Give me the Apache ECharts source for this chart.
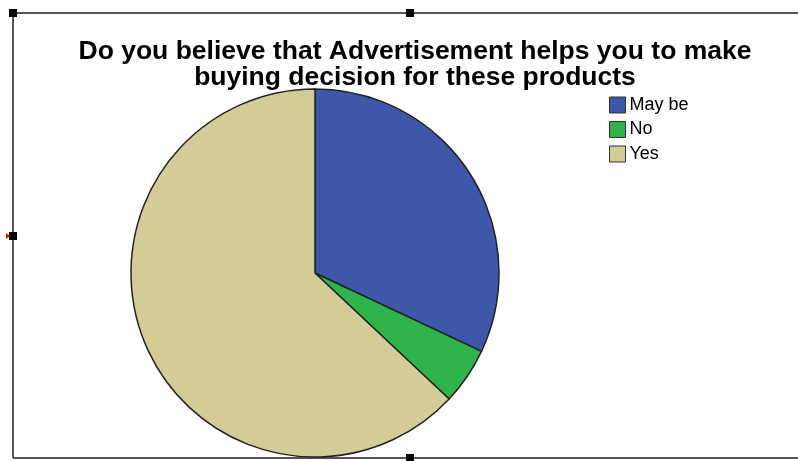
<!DOCTYPE html>
<html>
<head>
<meta charset="utf-8">
<script src="https://cdn.jsdelivr.net/npm/echarts@6/dist/echarts.min.js"></script>
<style>
  html, body { margin: 0; padding: 0; background: #fff; }
  #chart { width: 798px; height: 461px; }
</style>
</head>
<body>
<div id="chart"></div>
<script>
// Survey answers (percent of respondents)
const categories = ['May be', 'No', 'Yes'];
const shares = [32, 5, 63];
const sliceColors = ['#3d57a9', '#2fb34b', '#d3cc97'];

const chart = echarts.init(document.getElementById('chart'));

// Selection frame with handles around the chart object
const frameColor = '#555';
const handle = (x, y) => ({
  type: 'rect', shape: { x: x - 4, y: y - 4, width: 8, height: 8 },
  style: { fill: '#000' }, z: 10
});

chart.setOption({
  animation: false,
  title: {
    text: 'Do you believe that Advertisement helps you to make\nbuying decision for these products',
    left: 410, top: 34, textAlign: 'center',
    textStyle: {
      fontFamily: 'Liberation Sans, Arial, sans-serif',
      fontWeight: 'bold', fontSize: 26.5, lineHeight: 25.5, color: '#000'
    }
  },
  legend: {
    orient: 'vertical', left: 604, top: 91,
    itemWidth: 16, itemHeight: 16, itemGap: 6.5,
    icon: 'rect',
    itemStyle: { borderColor: '#333', borderWidth: 1 },
    textStyle: { fontFamily: 'Liberation Sans, Arial, sans-serif', fontSize: 18, color: '#000', padding: [0, 0, 0, -1] },
    data: categories
  },
  graphic: [
    { type: 'line', shape: { x1: 13, y1: 13, x2: 798, y2: 13 }, style: { stroke: frameColor, lineWidth: 2 } },
    { type: 'line', shape: { x1: 13, y1: 13, x2: 13, y2: 458 }, style: { stroke: frameColor, lineWidth: 2 } },
    { type: 'line', shape: { x1: 13, y1: 458, x2: 798, y2: 458 }, style: { stroke: frameColor, lineWidth: 2 } },
    handle(13, 13), handle(410, 13), handle(13, 236), handle(410, 458),
    { type: 'polygon', shape: { points: [[6, 233], [10, 236], [6, 239]] }, style: { fill: '#e00' }, z: 11 }
  ],
  series: [{
    type: 'pie',
    center: [315, 273],
    radius: 184,
    startAngle: 90,
    clockwise: true,
    label: { show: false },
    labelLine: { show: false },
    emphasis: { disabled: true },
    itemStyle: { borderColor: '#222', borderWidth: 1.5 },
    data: categories.map((name, i) => ({
      name, value: shares[i], itemStyle: { color: sliceColors[i] }
    }))
  }]
});
</script>
</body>
</html>
